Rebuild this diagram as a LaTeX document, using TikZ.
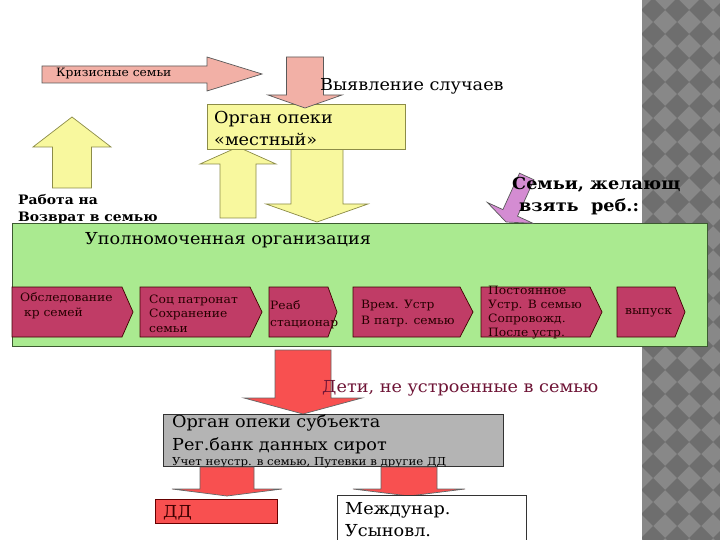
\documentclass[tikz,border=0pt]{standalone}
\usepackage{fontspec}
\setmainfont{DejaVu Serif}[FakeStretch=1.07]

\definecolor{pinkfill}{HTML}{F2B0A6}
\definecolor{yelfill}{HTML}{F8F89E}
\definecolor{yelline}{HTML}{8C8C48}
\definecolor{grnfill}{HTML}{AAEA90}
\definecolor{grnline}{HTML}{3C5A30}
\definecolor{chevfill}{HTML}{C03C66}
\definecolor{redfill}{HTML}{F85050}
\definecolor{purfill}{HTML}{D48CD2}
\definecolor{graybox}{HTML}{B4B4B4}
\definecolor{detitext}{HTML}{6E1436}
\definecolor{chkdark}{HTML}{6E6E6E}
\definecolor{chklight}{HTML}{888888}

% vertical block arrow: [style]{x centre}{body start y}{head start y}{tip y}{body half width}{head half width}
\newcommand{\vblock}[7][]{%
  \draw[#1] (#2-#6,#3) -- (#2-#6,#4) -- (#2-#7,#4) -- (#2,#5) -- (#2+#7,#4) -- (#2+#6,#4) -- (#2+#6,#3) -- cycle;}
% step of the chain: {left x}{point start x}{tip x}
\newcommand{\chevron}[3]{%
  \draw[chev] (#1,287) -- (#2,287) -- (#3,312) -- (#2,337) -- (#1,337) -- cycle;}

\tikzset{
  pinkarr/.style={fill=pinkfill, draw=black!65, line width=0.7pt},
  yelarr/.style={fill=yelfill, draw=yelline, line width=0.7pt},
  redarr/.style={fill=redfill, draw=black!60, line width=0.7pt},
  chev/.style={fill=chevfill, draw=black!75!red, line width=0.7pt},
  txt/.style={inner sep=0pt, anchor=west, align=left},
  big/.style={font=\fontsize{16.5}{22}\selectfont},
  chevtxt/.style={txt, font=\fontsize{11.5}{14.5}\selectfont, text=black!85!red},
}

\begin{document}
\begin{tikzpicture}[x=1pt, y=-1pt]
\useasboundingbox (0,0) rectangle (720,540);
\fill[white] (0,0) rectangle (720,540);

% checkered strip on the right
\begin{scope}
\clip (642,0) rectangle (720,540);
\fill[chklight] (642,0) rectangle (720,540);
\foreach \i in {-1,...,3}
  \foreach \j in {-1,...,23}
    \fill[chkdark] (653+24*\i,10+24*\j-12) -- (653+24*\i+12,10+24*\j) -- (653+24*\i,10+24*\j+12) -- (653+24*\i-12,10+24*\j) -- cycle;
\end{scope}

% top part
\draw[pinkarr] (42,66) -- (207,66) -- (207,57) -- (262,74) -- (207,91) -- (207,83) -- (42,83) -- cycle;
\node[txt, font=\fontsize{11.5}{14}\selectfont] (krizis) at (56,74) {Кризисные семьи};

\vblock[yelarr]{72}{188}{147}{117}{19.5}{39}
\vblock[yelarr]{238}{218}{164}{147}{18}{38}
\vblock[yelarr]{317}{149}{204}{222}{26}{51}

\node[draw=yelline, fill=yelfill, line width=0.7pt, minimum width=198pt, minimum height=45pt,
      anchor=north west, inner sep=0pt] (mestny) at (207,104) {};
\node[txt, big] (mestnyTxt) at (214,128) {Орган опеки\\«местный»};
\vblock[pinkarr]{305}{57}{95}{108}{18.5}{37}
\node[txt, big] (vyyavl) at (320,86) {Выявление случаев};

\node[txt, font=\bfseries\fontsize{13}{17}\selectfont] (rabota) at (18,209.5) {Работа на\\Возврат в семью};

% green block with the chain of steps
\node[draw=grnline, fill=grnfill, line width=0.8pt, minimum width=695pt, minimum height=123pt,
      anchor=north west, inner sep=0pt] (upoln) at (12,223) {};
\node[txt, big] (upolnTxt) at (85,240) {Уполномоченная организация};

\draw[fill=purfill, draw=black!65, line width=0.7pt] (534,179.8) -- (517.5,216.2) -- (533,223.3) -- (506,222) -- (487.4,202.5) -- (502.9,209.6) -- (519.5,173.2) -- cycle;
\node[txt, font=\bfseries\fontsize{16.5}{22}\selectfont] (semi) at (512,196) {Семьи, желающ\\\hspace*{7pt}взять\ \ реб.:};

\chevron{12}{122}{133}
\chevron{140}{250}{262}
\chevron{269}{328}{337}
\chevron{353}{460}{473}
\chevron{481}{590}{602}
\chevron{617}{675}{685}
\node[chevtxt] (ch1) at (20,305.5) {Обследование\\\ кр семей};
\node[chevtxt] (ch2) at (149,313.5) {Соц патронат\\Сохранение\\семьи};
\node[chevtxt, font=\fontsize{11.5}{17}\selectfont] (ch3) at (270,314.5) {Реаб\\стационар};
\node[chevtxt, font=\fontsize{11.5}{16}\selectfont] (ch4) at (361,314) {Врем. Устр\\В патр. семью};
\node[chevtxt, font=\fontsize{11.5}{14}\selectfont] (ch5) at (488,313) {Постоянное\\Устр. В семью\\Сопровожд.\\После устр.};
\node[chevtxt] (ch6) at (625,313) {выпуск};

% lower part
\vblock[redarr]{303}{350}{398}{414}{28}{59}
\node[txt, big, text=detitext] (deti) at (322,388) {Дети, не устроенные в семью};

\node[draw=black!80, fill=graybox, line width=0.8pt, minimum width=340pt, minimum height=52pt,
      anchor=north west, inner sep=0pt] (subj) at (163,414) {};
\node[txt, big] (subjA) at (172,423) {Орган опеки субъекта};
\node[txt, big] (subjB) at (172,446) {Рег.банк данных сирот};
\node[txt, font=\fontsize{11}{13}\selectfont] (subjC) at (172,463) {Учет неустр. в семью, Путевки в другие ДД};

\vblock[redarr]{227}{467}{489}{496}{27}{55}
\vblock[redarr]{409}{467}{489}{496}{28}{56}

\node[draw=black!60!red, fill=redfill, line width=0.7pt, minimum width=122pt, minimum height=24pt,
      anchor=north west, inner sep=0pt] (dd) at (155,499) {};
\node[txt, big, text=black!75!red] (ddTxt) at (163,513) {ДД};
\node[draw=black!80, fill=white, line width=0.8pt, minimum width=189pt, minimum height=50pt,
      anchor=north west, inner sep=0pt] (mezhd) at (337,495) {};
\node[txt, font=\fontsize{16.5}{22}\selectfont] (mezhdTxt) at (345,519.5) {Междунар.\\Усыновл.};
\end{tikzpicture}
\end{document}
